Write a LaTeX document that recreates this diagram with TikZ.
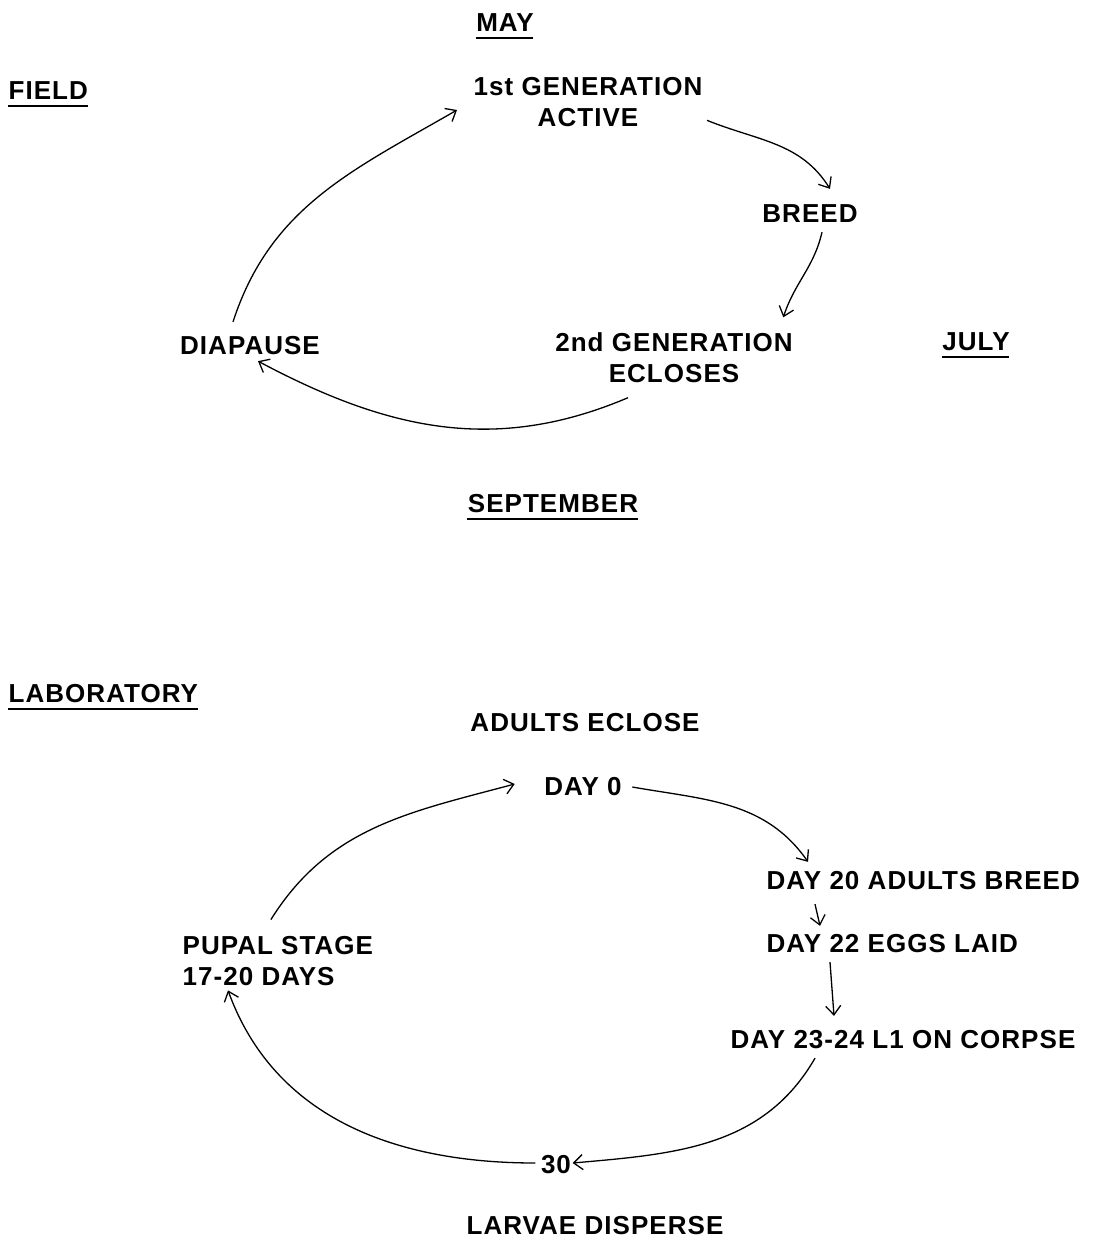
\documentclass[tikz,border=0pt]{standalone}
\usepackage{fontspec}
\setmainfont{Liberation Sans}[LetterSpace=4]
\usetikzlibrary{arrows.meta,positioning}

\begin{document}
\begin{tikzpicture}[->, >={Straight Barb[length=9pt,width=15pt]}, x=1pt, y=1pt, line width=1.3pt,
  lbl/.style={font=\fontsize{26}{31}\selectfont\bfseries, text height=19pt, text depth=0pt, inner sep=2pt},
  blk/.style={font=\fontsize{26}{31}\selectfont\bfseries, inner sep=2pt, align=center},
  uline/.style={-, line width=1.7pt, shorten <=2pt, shorten >=3pt}]
\useasboundingbox (0,0) rectangle (1115,-1244);

% field cycle
\node[lbl] (may) at (505,-22) {MAY};
\node[lbl, anchor=west] (field) at (6,-90) {FIELD};
\node[blk] (gen1) at (588,-102) {1st GENERATION\\ACTIVE};
\node[lbl] (breed) at (810,-213) {BREED};
\node[blk] (gen2) at (674,-358) {2nd GENERATION\\ECLOSES};
\node[lbl] (july) at (976,-341) {JULY};
\node[lbl] (diapause) at (250,-345) {DIAPAUSE};
\node[lbl] (sept) at (553,-503) {SEPTEMBER};

\draw[uline] ([yshift=-4pt]may.south west) -- ([yshift=-4pt]may.south east);
\draw[uline] ([yshift=-4pt]field.south west) -- ([yshift=-4pt]field.south east);
\draw[uline] ([yshift=-4pt]july.south west) -- ([yshift=-4pt]july.south east);
\draw[uline] ([yshift=-4pt]sept.south west) -- ([yshift=-4pt]sept.south east);

\draw ([xshift=-17pt,yshift=11pt]diapause.north) to[out=72, in=210] ([xshift=-14pt,yshift=-8pt]gen1.west);
\draw ([xshift=2pt,yshift=9pt]gen1.south east) to[out=-22, in=122] ([xshift=20pt,yshift=12pt]breed.north);
\draw ([xshift=12pt,yshift=-7pt]breed.south) to[out=-103, in=72] ([xshift=-12pt,yshift=13pt]gen2.north east);
\draw ([xshift=-46pt,yshift=-12pt]gen2.south) to[out=203, in=-28] ([xshift=8pt,yshift=-4pt]diapause.south);

% laboratory cycle
\node[lbl, anchor=west] (lab) at (6,-693) {LABORATORY};
\node[lbl] (adults) at (585,-722) {ADULTS ECLOSE};
\node[lbl] (day0) at (583,-786) {DAY 0};
\node[lbl, anchor=west] (d20) at (764,-880) {DAY 20 ADULTS BREED};
\node[lbl, anchor=west] (d22) at (764,-943) {DAY 22 EGGS LAID};
\node[lbl, anchor=west] (d23) at (728,-1039) {DAY 23-24 L1 ON CORPSE};
\node[blk, align=left, anchor=west] (pupal) at (180,-961) {PUPAL STAGE\\17-20 DAYS};
\node[lbl] (thirty) at (556,-1164) {30};
\node[lbl] (larvae) at (595,-1225) {LARVAE DISPERSE};

\draw[uline] ([yshift=-4pt]lab.south west) -- ([yshift=-4pt]lab.south east);

\draw ([xshift=-7pt,yshift=14pt]pupal.north) to[out=58, in=195] ([xshift=-27pt,yshift=2pt]day0.west);
\draw ([xshift=8pt,yshift=-1pt]day0.east) to[out=-10, in=125] ([xshift=44pt,yshift=6pt]d20.north west);
\draw ([xshift=51pt,yshift=-12pt]d20.south west) -- ([xshift=56pt,yshift=5pt]d22.north west);
\draw ([xshift=66pt,yshift=-7pt]d22.south west) -- ([xshift=106pt,yshift=11pt]d23.north west);
\draw ([xshift=87pt,yshift=-7pt]d23.south west) to[out=-120, in=5] ([xshift=-1pt,yshift=1pt]thirty.east);
\draw ([xshift=-3pt,yshift=1pt]thirty.west) to[out=180, in=-70] ([xshift=48pt,yshift=-2pt]pupal.south west);
\end{tikzpicture}
\end{document}
